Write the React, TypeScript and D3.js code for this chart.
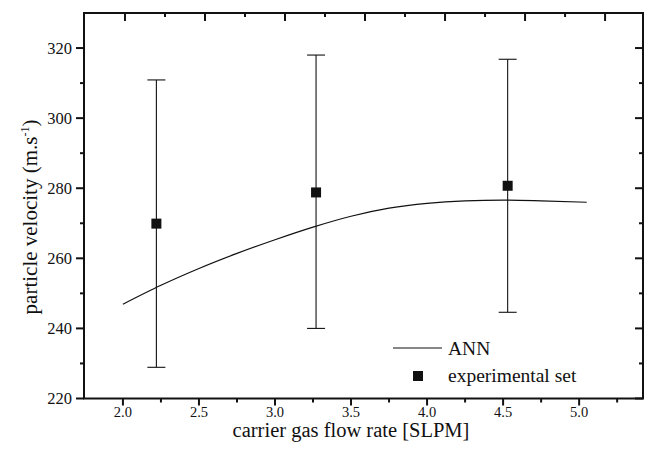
import React from "react";
import * as d3 from "d3";

const annX = [2.0, 2.25, 2.5, 2.75, 3.0, 3.25, 3.5, 3.75, 4.0, 4.25, 4.5, 4.75, 5.05];
const annY = [246.9, 252.3, 257.1, 261.4, 265.3, 268.9, 272.0, 274.3, 275.7, 276.4, 276.6, 276.4, 276.0];

const expX = [2.22, 3.27, 4.53];
const expY = [269.9, 278.8, 280.7];
const expLow = [228.9, 240.0, 244.6];
const expHigh = [310.9, 318.0, 316.8];

const xTicks = [2.0, 2.5, 3.0, 3.5, 4.0, 4.5, 5.0];
const xMinor = [1.75, 2.25, 2.75, 3.25, 3.75, 4.25, 4.75, 5.25];
const yTicks = [220, 240, 260, 280, 300, 320];
const yMinor = [230, 250, 270, 290, 310, 330];
const topMajor = [2.0, 2.5, 3.0, 3.5, 4.0, 4.5, 5.0];
const topMinor = [2.25, 2.75, 3.25, 3.75, 4.25, 4.75];

const W = 649, H = 466;
const L = 84, R = 643, T = 13, B = 398.5;

export default function App() {
  const x = d3.scaleLinear().domain([1.744, 5.42]).range([L, R]);
  const xTop = d3.scaleLinear().domain([1.744, 5.237]).range([L, R]);
  const y = d3.scaleLinear().domain([220, 330]).range([B, T]);
  const line = d3.line<number>().x((_, i) => x(annX[i])).y((d) => y(d)).curve(d3.curveMonotoneX);
  const fs = { fontFamily: "Liberation Serif" };
  const ink = "#111";
  return (
    <svg width={W} height={H} style={{ position: "absolute", left: 0, top: 0, background: "#fff" }}>
      <rect x={0} y={0} width={W} height={H} fill="#fff" />
      <rect x={L} y={T} width={R - L} height={B - T} fill="none" stroke={ink} strokeWidth={2} />
      {xTicks.map((t) => (
        <g key={"xb" + t}>
          <line x1={x(t)} x2={x(t)} y1={B} y2={B + 7} stroke={ink} strokeWidth={2} />
          <text x={x(t)} y={B + 18} fontSize={14.5} textAnchor="middle" fill={ink} style={fs}>{t.toFixed(1)}</text>
        </g>
      ))}
      {xMinor.filter((t) => x(t) > L + 1 && x(t) < R - 1).map((t) => (
        <line key={"xm" + t} x1={x(t)} x2={x(t)} y1={B} y2={B + 4} stroke={ink} strokeWidth={2} />
      ))}
      {topMajor.map((t) => (
        <line key={"tm" + t} x1={xTop(t)} x2={xTop(t)} y1={T} y2={T + 8} stroke={ink} strokeWidth={2} />
      ))}
      {topMinor.map((t) => (
        <line key={"tn" + t} x1={xTop(t)} x2={xTop(t)} y1={T} y2={T + 4} stroke={ink} strokeWidth={2} />
      ))}
      {yTicks.map((t) => (
        <g key={"yl" + t}>
          <line x1={L - 8} x2={L} y1={y(t)} y2={y(t)} stroke={ink} strokeWidth={2} />
          <text x={L - 12} y={y(t) + 5.5} fontSize={16.5} textAnchor="end" fill={ink} style={fs}>{t}</text>
          <line x1={R - 8} x2={R} y1={y(t)} y2={y(t)} stroke={ink} strokeWidth={2} />
        </g>
      ))}
      {yMinor.filter((t) => y(t) > T + 1).map((t) => (
        <g key={"ym" + t}>
          <line x1={L - 4} x2={L} y1={y(t)} y2={y(t)} stroke={ink} strokeWidth={2} />
          <line x1={R - 4} x2={R} y1={y(t)} y2={y(t)} stroke={ink} strokeWidth={2} />
        </g>
      ))}
      <path d={line(annY) || ""} fill="none" stroke={ink} strokeWidth={1.2} />
      {expX.map((v, i) => (
        <g key={"e" + i}>
          <line x1={x(v)} x2={x(v)} y1={y(expLow[i])} y2={y(expHigh[i])} stroke={ink} strokeWidth={1.1} />
          <line x1={x(v) - 9} x2={x(v) + 9} y1={y(expLow[i])} y2={y(expLow[i])} stroke={ink} strokeWidth={1.1} />
          <line x1={x(v) - 9} x2={x(v) + 9} y1={y(expHigh[i])} y2={y(expHigh[i])} stroke={ink} strokeWidth={1.1} />
          <rect x={x(v) - 5} y={y(expY[i]) - 5} width={10} height={10} fill={ink} />
        </g>
      ))}
      <line x1={393} x2={442} y1={348} y2={348} stroke={ink} strokeWidth={1.2} />
      <text x={448} y={354.5} fontSize={19.5} fill={ink} style={fs}>ANN</text>
      <rect x={413} y={371} width={10} height={10} fill={ink} />
      <text x={448} y={382} fontSize={19.5} fill={ink} style={fs}>experimental set</text>
      <text x={351} y={437} fontSize={20.5} textAnchor="middle" fill={ink} style={fs}>carrier gas flow rate [SLPM]</text>
      <text transform={`translate(37, 217) rotate(-90)`} fontSize={21} textAnchor="middle" fill={ink} style={fs}>
        particle velocity (m.s<tspan dy={-8} fontSize={12}>-1</tspan><tspan dy={8}>)</tspan>
      </text>
    </svg>
  );
}
